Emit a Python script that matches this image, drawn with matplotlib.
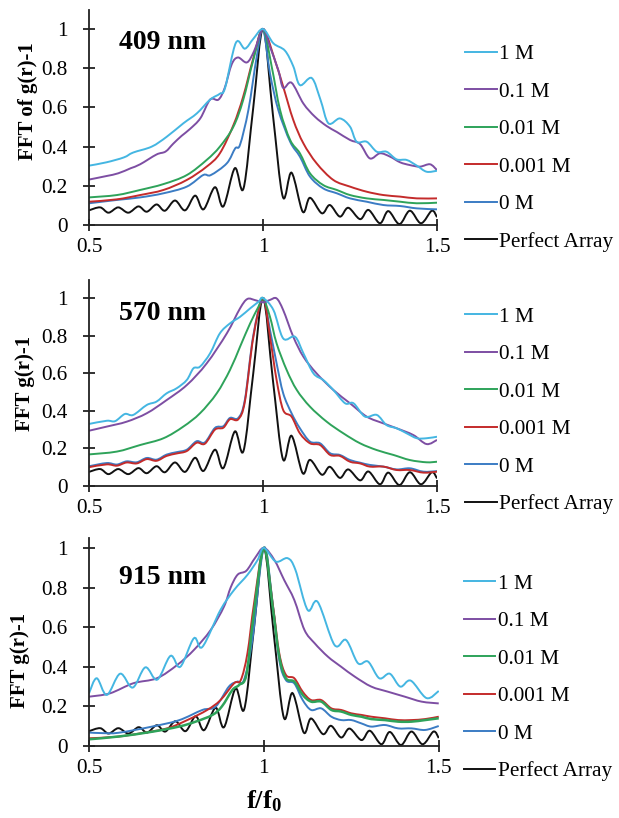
import numpy as np
import matplotlib
matplotlib.use('Agg')
import matplotlib.pyplot as plt
from matplotlib.path import Path
from matplotlib.patches import PathPatch
from matplotlib.lines import Line2D

plt.rcParams['font.family'] = ['Liberation Serif', 'DejaVu Serif']
plt.rcParams['mathtext.fontset'] = 'custom'
plt.rcParams['mathtext.bf'] = 'Liberation Serif:bold'
plt.rcParams['mathtext.rm'] = 'Liberation Serif:bold'

labels = ['1 M', '0.1 M', '0.01 M', '0.001 M', '0 M', 'Perfect Array']
colors = ['#44b6e2', '#7d4ea3', '#2ea35a', '#c42b2b', '#3b7cc4', '#111111']
titles = ['409 nm', '570 nm', '915 nm']
ylabels = ['FFT of g(r)-1', 'FFT g(r)-1', 'FFT g(r)-1']

# perfect array (same in every panel)
x_perfect = [0.5, 0.532, 0.556, 0.584, 0.613, 0.642, 0.666, 0.694, 0.718, 0.747, 0.776,
             0.805, 0.829, 0.862, 0.886, 0.919, 0.944, 0.972, 1.0, 1.028, 1.057, 1.082,
             1.114, 1.135, 1.169, 1.192, 1.221, 1.245, 1.279, 1.303, 1.336, 1.36, 1.392,
             1.422, 1.454, 1.485, 1.5]
y_perfect = [0.075, 0.09, 0.063, 0.09, 0.063, 0.095, 0.068, 0.105, 0.073, 0.125, 0.075,
             0.15, 0.08, 0.193, 0.095, 0.29, 0.187, 0.60, 1.0, 0.57, 0.144, 0.267,
             0.068, 0.139, 0.06, 0.102, 0.043, 0.088, 0.03, 0.077, 0.009, 0.071, 0.005,
             0.073, 0.009, 0.073, 0.04]

# 409 nm
x_409_1m = [0.5, 0.55, 0.6, 0.627, 0.68, 0.723, 0.771, 0.81, 0.848, 0.876, 0.891, 0.922, 0.948,
            0.972, 1.0, 1.03, 1.063, 1.087, 1.106, 1.14, 1.165, 1.188, 1.221, 1.25, 1.269, 1.298,
            1.327, 1.355, 1.384, 1.413, 1.442, 1.47, 1.5]
y_409_1m = [0.303, 0.32, 0.345, 0.37, 0.40, 0.45, 0.519, 0.57, 0.64, 0.67, 0.70, 0.93, 0.90,
            0.95, 1.0, 0.927, 0.89, 0.81, 0.714, 0.75, 0.64, 0.519, 0.544, 0.502, 0.425, 0.425,
            0.374, 0.374, 0.335, 0.332, 0.303, 0.272, 0.277]
x_409_01m = [0.5, 0.55, 0.584, 0.62, 0.647, 0.694, 0.72, 0.742, 0.766, 0.79, 0.82, 0.848, 0.872,
             0.89, 0.91, 0.928, 0.954, 0.975, 1.0, 1.02, 1.044, 1.058, 1.082, 1.116, 1.149,
             1.183, 1.212, 1.25, 1.279, 1.307, 1.336, 1.365, 1.394, 1.422, 1.451, 1.48, 1.5]
y_409_01m = [0.232, 0.25, 0.264, 0.29, 0.31, 0.36, 0.375, 0.415, 0.455, 0.49, 0.545, 0.64, 0.64,
             0.70, 0.82, 0.855, 0.83, 0.89, 1.0, 0.91, 0.79, 0.70, 0.726, 0.62, 0.553,
             0.505, 0.475, 0.434, 0.413, 0.34, 0.366, 0.349, 0.32, 0.306, 0.298, 0.31, 0.28]
x_409_001m = [0.5, 0.58, 0.647, 0.714, 0.781, 0.838, 0.876, 0.915, 0.943, 0.972, 1.0, 1.025,
              1.049, 1.078, 1.106, 1.135, 1.173, 1.212, 1.25, 1.298, 1.346, 1.394, 1.442, 1.5]
y_409_001m = [0.141, 0.153, 0.179, 0.209, 0.255, 0.332, 0.40, 0.502, 0.638, 0.842, 1.0, 0.808,
              0.587, 0.434, 0.366, 0.264, 0.204, 0.179, 0.153, 0.136, 0.128, 0.119, 0.111, 0.114]
x_409_0001m = [0.5, 0.58, 0.647, 0.714, 0.781, 0.838, 0.876, 0.915, 0.943, 0.972, 1.0, 1.034,
               1.058, 1.087, 1.116, 1.154, 1.202, 1.25, 1.298, 1.346, 1.394, 1.442, 1.5]
y_409_0001m = [0.119, 0.131, 0.153, 0.179, 0.23, 0.298, 0.366, 0.51, 0.655, 0.85, 1.0, 0.842,
               0.706, 0.536, 0.417, 0.315, 0.23, 0.196, 0.17, 0.153, 0.145, 0.136, 0.136]
x_409_0m = [0.5, 0.58, 0.647, 0.714, 0.781, 0.828, 0.85, 0.896, 0.92, 0.934, 0.958, 0.982, 1.0,
            1.02, 1.044, 1.078, 1.106, 1.135, 1.173, 1.212, 1.25, 1.298, 1.346, 1.394, 1.442, 1.5]
y_409_0m = [0.111, 0.128, 0.141, 0.162, 0.196, 0.255, 0.255, 0.315, 0.391, 0.41, 0.587, 0.859, 1.0,
            0.774, 0.587, 0.425, 0.349, 0.247, 0.187, 0.162, 0.136, 0.119, 0.102, 0.097, 0.085, 0.08]

# 570 nm
x_570_1m = [0.5, 0.551, 0.575, 0.603, 0.627, 0.666, 0.694, 0.723, 0.752, 0.781, 0.80, 0.819,
            0.848, 0.876, 0.905, 0.934, 0.963, 0.987, 1.0, 1.03, 1.058, 1.092, 1.116, 1.145,
            1.173, 1.202, 1.236, 1.26, 1.293, 1.327, 1.355, 1.384, 1.413, 1.442, 1.47, 1.5]
y_570_1m = [0.33, 0.347, 0.345, 0.383, 0.378, 0.431, 0.449, 0.493, 0.52, 0.564, 0.626, 0.635,
            0.706, 0.812, 0.865, 0.90, 0.945, 0.98, 1.0, 0.936, 0.785, 0.794, 0.706, 0.599,
            0.564, 0.511, 0.44, 0.44, 0.369, 0.378, 0.324, 0.307, 0.28, 0.254, 0.254, 0.262]
x_570_01m = [0.5, 0.551, 0.608, 0.666, 0.723, 0.781, 0.838, 0.896, 0.934, 0.955, 0.977, 1.0,
             1.02, 1.039, 1.058, 1.087, 1.116, 1.154, 1.202, 1.25, 1.298, 1.346, 1.384, 1.432,
             1.47, 1.5]
y_570_01m = [0.294, 0.316, 0.342, 0.387, 0.457, 0.537, 0.652, 0.812, 0.945, 0.995, 0.989, 0.977,
             0.99, 0.998, 0.936, 0.794, 0.688, 0.599, 0.511, 0.44, 0.369, 0.333, 0.307, 0.271,
             0.223, 0.245]
x_570_001m = [0.5, 0.58, 0.647, 0.714, 0.771, 0.819, 0.867, 0.905, 0.934, 0.963, 0.987, 1.0, 1.02,
              1.039, 1.068, 1.097, 1.135, 1.183, 1.231, 1.279, 1.327, 1.375, 1.422, 1.47, 1.5]
y_570_001m = [0.168, 0.183, 0.218, 0.254, 0.316, 0.387, 0.493, 0.617, 0.741, 0.865, 0.954, 1.0, 0.90,
              0.759, 0.617, 0.511, 0.422, 0.342, 0.28, 0.227, 0.191, 0.165, 0.138, 0.126, 0.129]
x_570_0001m = [0.5, 0.551, 0.58, 0.608, 0.637, 0.666, 0.694, 0.723, 0.752, 0.781, 0.809, 0.833,
               0.862, 0.886, 0.905, 0.929, 0.948, 0.972, 1.0, 1.02, 1.039, 1.058, 1.082, 1.106,
               1.135, 1.164, 1.193, 1.221, 1.25, 1.279, 1.307, 1.346, 1.384, 1.422, 1.461, 1.5]
y_570_0001m = [0.10, 0.115, 0.108, 0.125, 0.12, 0.143, 0.134, 0.16, 0.173, 0.186, 0.23, 0.225,
               0.30, 0.31, 0.355, 0.355, 0.45, 0.79, 1.0, 0.794, 0.564, 0.404, 0.369, 0.28,
               0.227, 0.218, 0.165, 0.16, 0.129, 0.12, 0.103, 0.103, 0.085, 0.085, 0.071, 0.076]
x_570_0m = x_570_0001m
y_570_0m = [0.105, 0.122, 0.114, 0.131, 0.126, 0.149, 0.14, 0.167, 0.18, 0.193, 0.238, 0.232,
            0.309, 0.318, 0.362, 0.362, 0.46, 0.80, 1.0, 0.83, 0.653, 0.493, 0.387, 0.307,
            0.236, 0.227, 0.174, 0.165, 0.138, 0.124, 0.112, 0.103, 0.088, 0.094, 0.076, 0.079]

# 915 nm
x_915_1m = [0.5, 0.522, 0.551, 0.589, 0.625, 0.661, 0.695, 0.733, 0.761, 0.80, 0.824, 0.876,
            0.915, 0.953, 0.982, 1.0, 1.034, 1.068, 1.09, 1.125, 1.154, 1.202, 1.235, 1.269,
            1.298, 1.33, 1.36, 1.39, 1.42, 1.465, 1.5]
y_915_1m = [0.266, 0.342, 0.258, 0.365, 0.295, 0.397, 0.335, 0.455, 0.40, 0.544, 0.50, 0.687,
            0.788, 0.864, 0.939, 1.0, 0.931, 0.948, 0.89, 0.687, 0.727, 0.51, 0.535, 0.418,
            0.426, 0.342, 0.365, 0.30, 0.33, 0.242, 0.278]
x_915_01m = [0.5, 0.56, 0.627, 0.694, 0.752, 0.80, 0.848, 0.886, 0.905, 0.925, 0.95, 0.975, 1.0,
             1.03, 1.058, 1.087, 1.116, 1.145, 1.183, 1.221, 1.26, 1.307, 1.355, 1.403, 1.451, 1.5]
y_915_01m = [0.249, 0.266, 0.317, 0.342, 0.409, 0.485, 0.586, 0.704, 0.80, 0.865, 0.885, 0.95, 1.0,
             0.939, 0.838, 0.737, 0.586, 0.519, 0.451, 0.40, 0.35, 0.30, 0.274, 0.249, 0.224, 0.215]
x_915_001m = [0.5, 0.585, 0.68, 0.757, 0.805, 0.853, 0.88, 0.91, 0.929, 0.95, 0.97, 1.0, 1.025,
              1.044, 1.063, 1.087, 1.111, 1.135, 1.164, 1.193, 1.221, 1.25, 1.279, 1.307, 1.346,
              1.384, 1.422, 1.461, 1.5]
y_915_001m = [0.034, 0.048, 0.072, 0.098, 0.123, 0.157, 0.20, 0.283, 0.308, 0.36, 0.65, 1.0, 0.704,
              0.451, 0.342, 0.325, 0.258, 0.224, 0.224, 0.182, 0.174, 0.157, 0.148, 0.136, 0.131,
              0.123, 0.123, 0.131, 0.14]
x_915_0001m = [0.5, 0.58, 0.647, 0.723, 0.781, 0.838, 0.876, 0.915, 0.934, 0.953, 0.972, 1.0,
               1.025, 1.044, 1.063, 1.087, 1.111, 1.135, 1.164, 1.193, 1.221, 1.25, 1.279, 1.307,
               1.346, 1.384, 1.422, 1.461, 1.5]
y_915_0001m = [0.039, 0.047, 0.064, 0.089, 0.131, 0.182, 0.232, 0.317, 0.333, 0.468, 0.721, 1.0,
               0.721, 0.468, 0.359, 0.342, 0.274, 0.232, 0.232, 0.19, 0.182, 0.165, 0.157, 0.148,
               0.14, 0.131, 0.131, 0.136, 0.148]
x_915_0m = [0.5, 0.54, 0.585, 0.68, 0.757, 0.824, 0.862, 0.90, 0.924, 0.943, 0.967, 1.0, 1.025,
            1.044, 1.063, 1.087, 1.111, 1.135, 1.164, 1.193, 1.221, 1.25, 1.279, 1.307, 1.346,
            1.384, 1.422, 1.461, 1.5]
y_915_0m = [0.068, 0.065, 0.067, 0.098, 0.13, 0.182, 0.199, 0.30, 0.325, 0.333, 0.535, 1.0, 0.721,
            0.434, 0.333, 0.316, 0.232, 0.182, 0.19, 0.148, 0.131, 0.131, 0.114, 0.098, 0.106,
            0.089, 0.089, 0.081, 0.101]

panels = [
    [(x_409_1m, y_409_1m), (x_409_01m, y_409_01m), (x_409_001m, y_409_001m),
     (x_409_0001m, y_409_0001m), (x_409_0m, y_409_0m), (x_perfect, y_perfect)],
    [(x_570_1m, y_570_1m), (x_570_01m, y_570_01m), (x_570_001m, y_570_001m),
     (x_570_0001m, y_570_0001m), (x_570_0m, y_570_0m), (x_perfect, y_perfect)],
    [(x_915_1m, y_915_1m), (x_915_01m, y_915_01m), (x_915_001m, y_915_001m),
     (x_915_0001m, y_915_0001m), (x_915_0m, y_915_0m), (x_perfect, y_perfect)],
]


def smooth_path(x, y):
    # smoothed line through the points (like a spreadsheet "smoothed line")
    px = np.concatenate([[x[0]], x, [x[-1]]]).astype(float)
    py = np.concatenate([[y[0]], y, [y[-1]]]).astype(float)
    verts = [(px[1], py[1])]
    for i in range(1, len(px) - 2):
        c1 = (px[i] + (px[i + 1] - px[i - 1]) / 6, py[i] + (py[i + 1] - py[i - 1]) / 6)
        c2 = (px[i + 1] - (px[i + 2] - px[i]) / 6, py[i + 1] - (py[i + 2] - py[i]) / 6)
        verts += [c1, c2, (px[i + 1], py[i + 1])]
    codes = [Path.MOVETO] + [Path.CURVE4] * (len(verts) - 1)
    return Path(verts, codes)


fig = plt.figure(figsize=(6.19, 8.18), dpi=100)
rects = [[0.1438, 0.7249, 0.5622, 0.2628],
         [0.1438, 0.4059, 0.5622, 0.2518],
         [0.1438, 0.0880, 0.5650, 0.2543]]
ytops = [1.097, 1.096, 1.05]
ylab_pos = [(-0.175, 0.577), (-0.184, 0.5), (-0.198, 0.41)]
title_y = [0.847, 0.837, 0.812]
leg_pos = [(1.08, 0.841), (1.08, 0.869), (1.071, 0.827)]

for k in range(3):
    ax = fig.add_axes(rects[k])
    # draw 0 M first so lighter curves overlap like in the original
    for j in [5, 4, 3, 2, 1, 0]:
        x, y = panels[k][j]
        lw = 1.8 if (k == 2 and j == 2) else 1.4
        ax.add_patch(PathPatch(smooth_path(x, y), fill=False, edgecolor=colors[j], lw=lw))
    ax.set_xlim(0.5, 1.5)
    ax.set_ylim(0, ytops[k])
    ax.set_xticks([0.5, 1, 1.5])
    ax.set_xticklabels(['0.5', '1', '1.5'])
    ax.set_yticks([0, 0.2, 0.4, 0.6, 0.8, 1])
    ax.set_yticklabels(['0', '0.2', '0.4', '0.6', '0.8', '1'])
    ax.spines['top'].set_visible(False)
    ax.spines['right'].set_visible(False)
    for s in ['left', 'bottom']:
        ax.spines[s].set_linewidth(1.3)
        ax.spines[s].set_color('#222222')
    ax.tick_params(direction='inout', length=9, width=1.3, labelsize=15.3, color='#222222')
    ax.tick_params(axis='y', pad=11)
    ax.tick_params(axis='x', pad=5)
    ax.text(0.086, title_y[k], titles[k], transform=ax.transAxes, fontsize=20,
            fontweight='bold', ha='left', va='center')
    ax.text(ylab_pos[k][0], ylab_pos[k][1], ylabels[k], transform=ax.transAxes, rotation=90,
            fontsize=15, fontweight='bold', ha='center', va='center')
    handles = [Line2D([], [], color=c, lw=1.4) for c in colors]
    ax.legend(handles, labels, loc='upper left', bbox_to_anchor=leg_pos[k], frameon=False,
              fontsize=15.3, handlelength=1.5, handletextpad=0.1, labelspacing=0.83,
              borderpad=0, borderaxespad=0)
    if k == 2:
        ax.set_xlabel(r'$\mathbf{f/f_0}$', fontsize=19, labelpad=7)

fig.savefig('out.png', dpi=100)
